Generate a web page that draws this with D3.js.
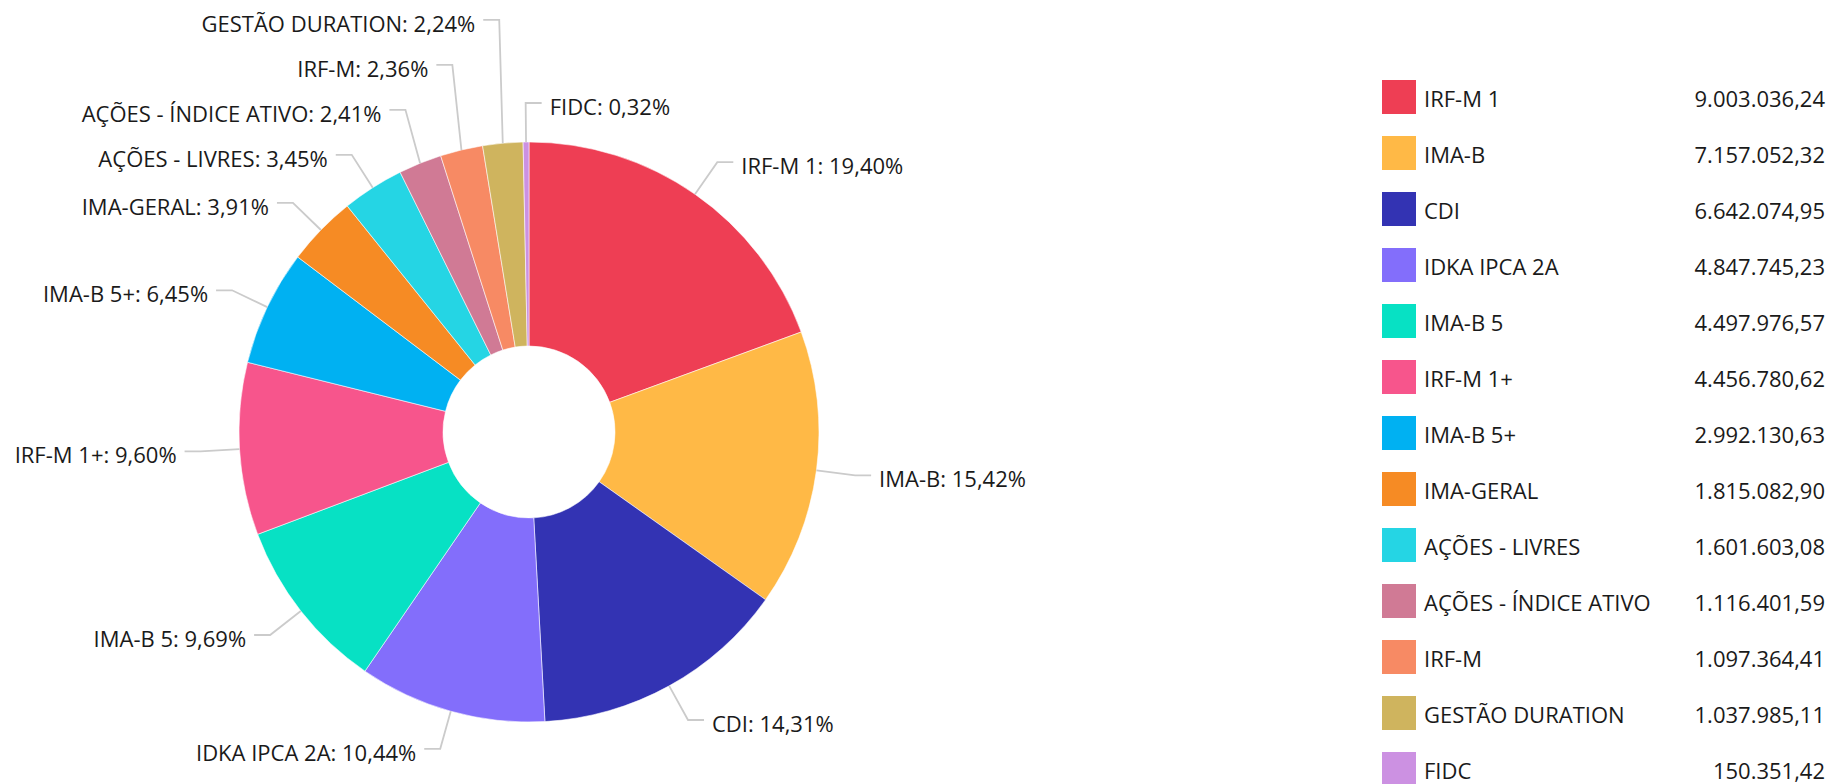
<!DOCTYPE html>
<html>
<head>
<meta charset="utf-8">
<script src="https://cdn.jsdelivr.net/npm/d3@7"></script>
<style>
  html, body { margin: 0; padding: 0; background: #fff; }
  svg { display: block; font-family: "Open Sans", "Noto Sans", sans-serif; }
</style>
</head>
<body>
<svg id="chart" width="1830" height="784"></svg>
<script>
const categories = [
  "IRF-M 1", "IMA-B", "CDI", "IDKA IPCA 2A", "IMA-B 5", "IRF-M 1+", "IMA-B 5+",
  "IMA-GERAL", "AÇÕES - LIVRES", "AÇÕES - ÍNDICE ATIVO", "IRF-M", "GESTÃO DURATION", "FIDC"
];
const values = [
  9003036.24, 7157052.32, 6642074.95, 4847745.23, 4497976.57, 4456780.62, 2992130.63,
  1815082.90, 1601603.08, 1116401.59, 1097364.41, 1037985.11, 150351.42
];
const colors = [
  "#EE3E54", "#FFB946", "#3333B3", "#836EFB", "#07E1C4", "#F7558C", "#00B1F2",
  "#F68B24", "#25D5E4", "#D07A95", "#F78A64", "#CFB45E", "#CC91E2"
];

const locale = d3.formatLocale({ decimal: ",", thousands: ".", grouping: [3], currency: ["R$", ""] });
const fmtVal = locale.format(",.2f");
const fmtPct = locale.format(".2f");

const data = categories.map((c, i) => ({ name: c, value: values[i], color: colors[i] }));
const total = d3.sum(values);

const svg = d3.select("#chart");
const cx = 529, cy = 432, R = 290, r0 = 86;
const len = 39, len2 = 16, gap = 8, minGap = 45;

const pie = d3.pie().sort(null).value(d => d.value).startAngle(0).endAngle(2 * Math.PI);
const arcs = pie(data);
const arc = d3.arc().innerRadius(r0).outerRadius(R);

const g = svg.append("g").attr("transform", `translate(${cx},${cy})`);
g.selectAll("path.slice").data(arcs).join("path")
  .attr("class", "slice")
  .attr("d", arc)
  .attr("fill", d => d.data.color)
  .attr("stroke", "#ffffff")
  .attr("stroke-width", 0.8)
  .attr("stroke-opacity", 0.7);

// label layout
const labels = arcs.map(a => {
  const mid = (a.startAngle + a.endAngle) / 2;
  const side = (mid < Math.PI || a.endAngle >= 2 * Math.PI - 1e-9) ? 1 : -1;
  const p0 = [Math.sin(mid) * R, -Math.cos(mid) * R];
  const p1 = [Math.sin(mid) * (R + len), -Math.cos(mid) * (R + len)];
  return { a, side, p0, p1x: p1[0], y: p1[1] };
});

[1, -1].forEach(side => {
  const list = labels.filter(l => l.side === side);
  const upper = list.filter(l => l.y < 0).sort((p, q) => q.y - p.y);
  for (let i = 1; i < upper.length; i++) {
    if (upper[i].y > upper[i - 1].y - minGap) upper[i].y = upper[i - 1].y - minGap;
  }
  const lower = list.filter(l => l.y >= 0).sort((p, q) => p.y - q.y);
  for (let i = 1; i < lower.length; i++) {
    if (lower[i].y < lower[i - 1].y + minGap) lower[i].y = lower[i - 1].y + minGap;
  }
});

const lg = g.append("g");
labels.forEach(l => {
  const p2x = l.p1x + l.side * len2;
  lg.append("polyline")
    .attr("points", [[l.p0[0], l.p0[1]], [l.p1x, l.y], [p2x, l.y]].map(p => p.join(",")).join(" "))
    .attr("fill", "none")
    .attr("stroke", "#cbcbcb")
    .attr("stroke-width", 1.8);
  lg.append("text")
    .attr("x", p2x + l.side * gap)
    .attr("y", l.y + 12)
    .attr("text-anchor", l.side > 0 ? "start" : "end")
    .attr("font-size", "22px")
    .attr("fill", "#1a1a1a")
    .text(`${l.a.data.name}: ${fmtPct(l.a.data.value / total * 100)}%`);
});

// legend
const legendX = 1382, legendTop = 80, rowH = 56, sw = 34, valueRight = 1825;
const leg = svg.append("g");
const rows = leg.selectAll("g.row").data(data).join("g")
  .attr("class", "row")
  .attr("transform", (d, i) => `translate(0,${legendTop + i * rowH})`);
rows.append("rect")
  .attr("x", legendX).attr("y", 0).attr("width", sw).attr("height", sw)
  .attr("fill", d => d.color);
rows.append("text")
  .attr("x", legendX + sw + 8).attr("y", 26.5)
  .attr("font-size", "22px").attr("fill", "#1a1a1a")
  .text(d => d.name);
rows.append("text")
  .attr("x", valueRight).attr("y", 26.5)
  .attr("text-anchor", "end")
  .attr("font-size", "22px").attr("fill", "#1a1a1a")
  .text(d => fmtVal(d.value));
</script>
</body>
</html>
